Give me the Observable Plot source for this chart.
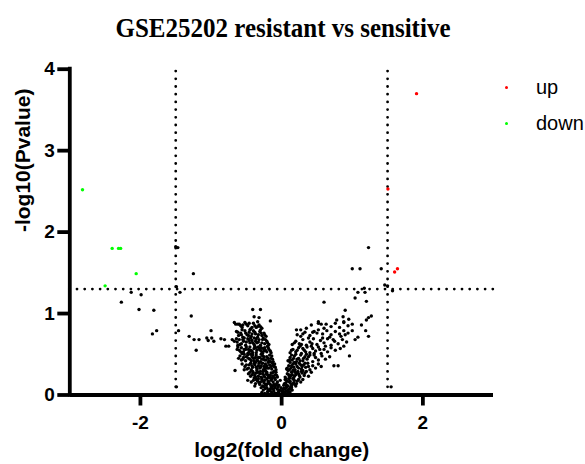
<!DOCTYPE html>
<html><head><meta charset="utf-8">
<script src="https://cdn.jsdelivr.net/npm/d3@7"></script>
<script src="https://cdn.jsdelivr.net/npm/@observablehq/plot@0.6"></script>
<style>
body{margin:0;background:#fff;width:585px;height:464px;overflow:hidden;position:relative;font-family:"Liberation Sans",Arial,sans-serif}
#title{height:50px;position:relative}
#title span{position:absolute;left:0;width:566px;text-align:center;top:15px;font:bold 25px/1 "Liberation Serif","Times New Roman",serif;color:#000;transform:scaleY(1.1)}
.ldot{position:absolute;width:3.2px;height:3.2px;border-radius:50%}
.ltxt{position:absolute;font:20px/1 "Liberation Sans",Arial,sans-serif;color:#000}
</style></head>
<body>
<div id="title"><span>GSE25202 resistant vs sensitive</span></div>
<div id="chart"></div>
<div class="ldot" style="left:505px;top:86px;background:#ff0000"></div>
<div class="ltxt" style="left:536px;top:77px">up</div>
<div class="ldot" style="left:505px;top:121.5px;background:#00ff00"></div>
<div class="ltxt" style="left:536px;top:113px">down</div>
<script>
// ---- data ----
const groups = ["ns", "up", "down"];
const groupColors = ["#000000", "#ff0000", "#00ff00"];
const xTicks = [-2, 0, 2];
const yTicks = [0, 1, 2, 3, 4];
const xDomain = [-3, 3];
const yDomain = [0, 4];
const fcCutoffs = [-1.5, 1.5];
const pCutoff = [1.301];
const xLabel = "log2(fold change)";
const yLabel = "-log10(Pvalue)";

const upPts = [[1.91,3.70],[1.505,2.53],[1.60,1.51],[1.64,1.55]];
const downPts = [[-2.82,2.52],[-2.40,1.80],[-2.31,1.80],[-2.28,1.80],[-2.06,1.49],[-2.50,1.34]];

const nsLeftArm = [
[-0.02,0.01],[0.01,0.02],[-0.05,0.03],[0.03,0.04],[-0.08,0.02],[-0.11,0.05],[-0.14,0.03],[-0.17,0.07],[-0.20,0.04],[-0.23,0.08],[-0.26,0.06],[-0.29,0.09],[-0.06,0.07],[-0.09,0.09],[0.05,0.08],[-0.13,0.08],[-0.18,0.01],[-0.03,0.06],[-0.24,0.02],[-0.15,0.10],[0.00,0.05],[-0.28,0.03],
[-0.04,0.04],[-0.10,0.02],[-0.16,0.05],[-0.21,0.09],[-0.07,0.01],[-0.12,0.07],[0.02,0.07],[-0.19,0.06],[-0.25,0.10],[-0.01,0.09],
[-0.04,0.12],[-0.07,0.14],[-0.10,0.11],[-0.12,0.16],[-0.16,0.13],[-0.19,0.17],[-0.22,0.12],[-0.25,0.15],[-0.28,0.19],[-0.31,0.13],[-0.34,0.17],[-0.37,0.14],[-0.40,0.18],[-0.02,0.18],[-0.09,0.19],[-0.14,0.20],[-0.21,0.20],[-0.27,0.11],[-0.33,0.20],[-0.06,0.16],[-0.18,0.15],[-0.30,0.16],[-0.48,0.18],[-0.24,0.18],
[-0.05,0.10],[-0.11,0.13],[-0.15,0.18],[-0.20,0.14],[-0.26,0.17],[-0.32,0.15],[-0.36,0.19],[-0.08,0.12],[-0.13,0.11],[-0.23,0.13],[-0.38,0.11],[-0.43,0.16],
[-0.06,0.22],[-0.09,0.25],[-0.12,0.23],[-0.15,0.27],[-0.18,0.24],[-0.21,0.28],[-0.24,0.22],[-0.27,0.26],[-0.30,0.29],[-0.33,0.23],[-0.36,0.27],[-0.39,0.21],[-0.42,0.25],[-0.45,0.28],[-0.11,0.29],[-0.17,0.21],[-0.23,0.30],[-0.29,0.22],[-0.35,0.30],[-0.41,0.29],[-0.08,0.28],[-0.20,0.25],[-0.26,0.29],[-0.38,0.24],[-0.14,0.21],
[-0.07,0.24],[-0.10,0.21],[-0.13,0.27],[-0.16,0.24],[-0.19,0.22],[-0.22,0.26],[-0.25,0.24],[-0.28,0.21],[-0.31,0.26],[-0.34,0.28],[-0.37,0.22],[-0.40,0.27],[-0.44,0.23],[-0.47,0.26],
[-0.08,0.31],[-0.11,0.35],[-0.14,0.32],[-0.17,0.37],[-0.20,0.33],[-0.23,0.38],[-0.26,0.31],[-0.29,0.36],[-0.32,0.39],[-0.35,0.32],[-0.38,0.37],[-0.41,0.34],[-0.44,0.39],[-0.47,0.33],[-0.50,0.37],[-0.53,0.31],[-0.13,0.39],[-0.19,0.40],[-0.25,0.35],[-0.31,0.33],[-0.37,0.40],[-0.43,0.31],[-0.10,0.38],[-0.22,0.34],[-0.66,0.30],
[-0.09,0.34],[-0.12,0.37],[-0.15,0.35],[-0.18,0.33],[-0.21,0.36],[-0.24,0.32],[-0.27,0.39],[-0.30,0.34],[-0.33,0.36],[-0.36,0.34],[-0.39,0.39],[-0.42,0.36],[-0.46,0.37],[-0.49,0.32],[-0.52,0.35],[-0.56,0.38],
[-0.12,0.41],[-0.15,0.45],[-0.18,0.42],[-0.21,0.47],[-0.24,0.43],[-0.27,0.48],[-0.30,0.41],[-0.33,0.46],[-0.36,0.49],[-0.39,0.42],[-0.42,0.47],[-0.45,0.44],[-0.48,0.49],[-0.51,0.42],[-0.54,0.46],[-0.57,0.43],[-0.59,0.48],[-0.17,0.49],[-0.26,0.44],[-0.35,0.43],[-0.44,0.50],[-0.53,0.50],[-0.14,0.48],[-0.29,0.50],[-0.40,0.45],
[-0.13,0.44],[-0.16,0.41],[-0.19,0.45],[-0.22,0.43],[-0.25,0.47],[-0.28,0.44],[-0.31,0.46],[-0.34,0.42],[-0.37,0.46],[-0.41,0.49],[-0.43,0.42],[-0.47,0.45],[-0.50,0.47],[-0.55,0.44],[-0.61,0.45],
[-0.15,0.52],[-0.18,0.56],[-0.21,0.53],[-0.24,0.58],[-0.27,0.51],[-0.30,0.55],[-0.33,0.59],[-0.36,0.52],[-0.39,0.57],[-0.42,0.54],[-0.45,0.59],[-0.48,0.51],[-0.51,0.56],[-0.54,0.53],[-0.57,0.58],[-0.60,0.55],[-0.20,0.60],[-0.29,0.58],[-0.38,0.60],[-0.47,0.56],[-0.56,0.51],[-0.62,0.59],[-0.25,0.54],
[-0.16,0.54],[-0.19,0.58],[-0.23,0.55],[-0.26,0.57],[-0.28,0.53],[-0.32,0.57],[-0.35,0.55],[-0.37,0.58],[-0.41,0.52],[-0.44,0.55],[-0.46,0.53],[-0.50,0.59],[-0.53,0.56],[-0.58,0.53],[-0.63,0.56],
[-0.18,0.62],[-0.21,0.66],[-0.24,0.63],[-0.27,0.68],[-0.30,0.61],[-0.33,0.65],[-0.36,0.69],[-0.39,0.62],[-0.42,0.67],[-0.45,0.64],[-0.48,0.69],[-0.51,0.61],[-0.54,0.66],[-0.57,0.63],[-0.60,0.68],[-0.63,0.65],[-0.26,0.70],[-0.35,0.64],[-0.44,0.70],[-0.53,0.70],[-0.62,0.61],
[-0.20,0.64],[-0.23,0.68],[-0.28,0.64],[-0.32,0.68],[-0.37,0.66],[-0.41,0.64],[-0.46,0.67],[-0.50,0.65],[-0.55,0.68],[-0.59,0.62],[-0.64,0.69],
[-0.22,0.72],[-0.25,0.76],[-0.28,0.73],[-0.31,0.78],[-0.34,0.71],[-0.37,0.75],[-0.40,0.79],[-0.43,0.72],[-0.46,0.77],[-0.49,0.74],[-0.52,0.79],[-0.55,0.71],[-0.58,0.76],[-0.61,0.73],[-0.64,0.78],[-0.30,0.80],[-0.45,0.80],[-0.56,0.80],[-0.39,0.70],
[-0.24,0.74],[-0.29,0.76],[-0.33,0.74],[-0.38,0.77],[-0.42,0.75],[-0.47,0.73],[-0.51,0.76],[-0.57,0.74],[-0.62,0.77],
[-0.28,0.82],[-0.32,0.86],[-0.36,0.83],[-0.40,0.88],[-0.44,0.81],[-0.48,0.85],[-0.52,0.89],[-0.56,0.83],[-0.60,0.87],[-0.34,0.84],[-0.46,0.88],[-0.65,0.87],[-0.62,0.87],[-0.55,0.86],[-0.50,0.87],[-0.67,0.89],
[-0.38,0.85],[-0.42,0.83],[-0.58,0.85],[-0.30,0.84],
[-0.30,1.05],[-0.41,1.05],[-0.39,0.96],[-0.32,0.95],[-0.16,0.91],[-0.34,0.90]
];

const nsRightArm = [
[0.02,0.01],[0.04,0.03],[0.06,0.05],[0.08,0.02],[0.10,0.07],[0.12,0.04],[0.14,0.09],[0.03,0.08],[0.07,0.10],[0.11,0.01],[0.09,0.06],[0.13,0.10],[0.05,0.00],
[0.01,0.05],[0.03,0.02],[0.06,0.09],[0.08,0.05],[0.10,0.03],[0.12,0.08],[0.15,0.06],
[0.03,0.12],[0.06,0.15],[0.09,0.11],[0.12,0.17],[0.15,0.13],[0.18,0.18],[0.21,0.14],[0.24,0.19],[0.27,0.16],[0.05,0.19],[0.10,0.20],[0.16,0.20],[0.20,0.11],[0.08,0.17],[0.13,0.14],[0.30,0.19],
[0.04,0.14],[0.07,0.12],[0.11,0.16],[0.14,0.11],[0.17,0.15],[0.19,0.13],[0.22,0.17],[0.06,0.20],
[0.05,0.22],[0.08,0.26],[0.11,0.23],[0.14,0.28],[0.17,0.21],[0.20,0.25],[0.23,0.29],[0.26,0.22],[0.29,0.27],[0.32,0.24],[0.35,0.29],[0.38,0.23],[0.42,0.28],[0.09,0.30],[0.16,0.30],[0.24,0.26],[0.13,0.24],[0.30,0.30],[0.19,0.28],
[0.10,0.25],[0.12,0.21],[0.15,0.25],[0.18,0.23],[0.21,0.27],[0.25,0.24],[0.28,0.29],[0.33,0.27],
[0.07,0.32],[0.10,0.36],[0.13,0.33],[0.16,0.38],[0.19,0.31],[0.22,0.35],[0.25,0.39],[0.28,0.32],[0.31,0.37],[0.34,0.34],[0.37,0.39],[0.40,0.31],[0.44,0.36],[0.48,0.33],[0.52,0.38],[0.56,0.35],[0.74,0.36],[0.80,0.36],[0.18,0.40],[0.27,0.37],[0.12,0.40],
[0.08,0.33],[0.11,0.31],[0.14,0.36],[0.17,0.34],[0.20,0.38],[0.24,0.33],[0.29,0.35],[0.33,0.39],[0.38,0.35],
[0.09,0.42],[0.12,0.46],[0.15,0.43],[0.18,0.48],[0.21,0.41],[0.24,0.45],[0.27,0.49],[0.30,0.42],[0.33,0.47],[0.36,0.44],[0.40,0.49],[0.44,0.41],[0.48,0.46],[0.52,0.43],[0.57,0.48],[0.62,0.44],[0.68,0.47],[0.96,0.48],[0.20,0.50],[0.35,0.50],[0.14,0.49],
[0.11,0.43],[0.17,0.45],[0.22,0.44],[0.26,0.42],[0.31,0.45],[0.38,0.47],[0.46,0.49],
[0.12,0.52],[0.16,0.56],[0.20,0.53],[0.24,0.58],[0.28,0.51],[0.32,0.55],[0.36,0.59],[0.40,0.52],[0.44,0.57],[0.48,0.54],[0.52,0.59],[0.56,0.51],[0.60,0.56],[0.65,0.53],[0.70,0.58],[0.76,0.55],[0.83,0.57],[0.88,0.60],[0.26,0.60],[0.42,0.60],
[0.14,0.55],[0.22,0.55],[0.30,0.57],[0.34,0.53],[0.46,0.51],[0.54,0.56],
[0.15,0.62],[0.20,0.66],[0.25,0.63],[0.30,0.68],[0.35,0.61],[0.40,0.65],[0.45,0.69],[0.50,0.62],[0.55,0.67],[0.60,0.64],[0.65,0.69],[0.70,0.61],[0.75,0.66],[0.80,0.63],[0.86,0.68],[0.92,0.65],[1.04,0.68],[1.08,0.71],[0.38,0.70],[0.58,0.70],
[0.18,0.64],[0.28,0.62],[0.43,0.63],[0.62,0.60],[0.73,0.68],[0.84,0.72],
[0.22,0.74],[0.27,0.72],[0.33,0.77],[0.40,0.73],[0.46,0.78],[0.52,0.80],[0.58,0.75],[0.64,0.79],[0.70,0.74],[0.76,0.78],[0.82,0.75],[0.88,0.79],[0.94,0.76],[1.00,0.79],[1.19,0.79],[1.23,0.72],[0.44,0.77],[0.21,0.80],[0.68,0.71],
[0.30,0.75],[0.50,0.76],[0.90,0.74],
[0.35,0.82],[0.42,0.86],[0.52,0.88],[0.56,0.87],[0.63,0.87],[0.70,0.84],[0.76,0.88],[0.82,0.83],[0.88,0.89],[0.94,0.85],[1.00,0.87],[1.13,0.86],[0.27,0.80],[0.60,0.82],
[0.87,0.96],[0.88,0.90],[0.90,1.04],[1.20,0.92],[1.23,0.95],[1.27,0.97],[0.60,1.14],[1.04,1.19],[1.20,1.15],[0.52,0.90],[0.95,0.93],[0.78,0.92]
];

const nsOutliers = [
[1.23,1.81],[1.00,1.55],[1.11,1.55],[1.41,1.55],[1.46,1.35],[1.50,1.34],[1.57,1.28],[1.08,1.26],[1.17,1.31],[1.18,1.26],[1.55,0.10],
[-1.50,1.82],[-1.47,1.81],[-1.25,1.49],[-2.13,1.26],[-1.99,1.23],[-2.27,1.14],[-2.02,1.05],[-1.81,1.04],[-1.49,1.33],[-1.44,1.26],
[-1.83,0.75],[-1.77,0.79],[-1.46,0.79],[-1.28,0.97],[-1.31,0.72],[-1.24,0.68],[-1.17,0.68],[-1.21,0.55],[-1.06,0.70],[-1.04,0.67],
[-1.00,0.79],[-0.99,0.70],[-0.96,0.66],[-0.86,0.69],[-0.81,0.68],[-0.79,0.60],[-0.75,0.60],[-0.70,0.68],[-0.67,0.66],[-1.49,0.10]
];

// ---- build table ----
const rows = (arr, group) => arr.map(([x, y]) => ({x, y, group}));
const data = [
  ...rows(nsLeftArm, "ns"), ...rows(nsRightArm, "ns"), ...rows(nsOutliers, "ns"),
  ...rows(upPts, "up"), ...rows(downPts, "down")
];

const fmt = d => String(d).replace("\u2212", "-");
const axisFont = "'Liberation Sans', Arial, sans-serif";
const chart = Plot.plot({
  width: 585, height: 414,
  marginLeft: 69.3, marginRight: 92, marginTop: 18.7, marginBottom: 69.5,
  x: {domain: xDomain},
  y: {domain: yDomain},
  color: {domain: groups, range: groupColors},
  style: {fontFamily: axisFont, background: "white", color: "black", overflow: "visible"},
  marks: [
    Plot.ruleX(fcCutoffs, {y1: yDomain[0], y2: yDomain[1], stroke: "black", strokeWidth: 2.8, strokeDasharray: "0,7.7", strokeLinecap: "round"}),
    Plot.ruleY(pCutoff, {x1: xDomain[0], x2: xDomain[1], stroke: "black", strokeWidth: 2.8, strokeDasharray: "0,7.7", strokeLinecap: "round"}),
    Plot.dot(data, {x: "x", y: "y", r: 1.7, fill: "group"}),
    Plot.ruleY([yDomain[0]], {x1: xDomain[0], x2: xDomain[1], stroke: "black", strokeWidth: 3.8}),
    Plot.ruleX([xDomain[0]], {y1: yDomain[0], y2: yDomain[1], stroke: "black", strokeWidth: 3.8, strokeLinecap: "square"}),
    Plot.axisX(xTicks, {tickSize: 11, tickPadding: 9, strokeWidth: 3.8, fontSize: 19, fontWeight: "bold", label: null, tickFormat: fmt}),
    Plot.axisY(yTicks, {tickSize: 12, tickPadding: 3, strokeWidth: 3.8, fontSize: 19, fontWeight: "bold", label: null, tickFormat: fmt}),
    Plot.text([xLabel], {frameAnchor: "bottom", dy: 62, lineAnchor: "bottom", fontSize: 21, fontWeight: "bold"}),
    Plot.text([yLabel], {frameAnchor: "left", dx: -47, rotate: -90, fontSize: 21, fontWeight: "bold"})
  ]
});
document.getElementById("chart").appendChild(chart);
</script>
</body></html>
